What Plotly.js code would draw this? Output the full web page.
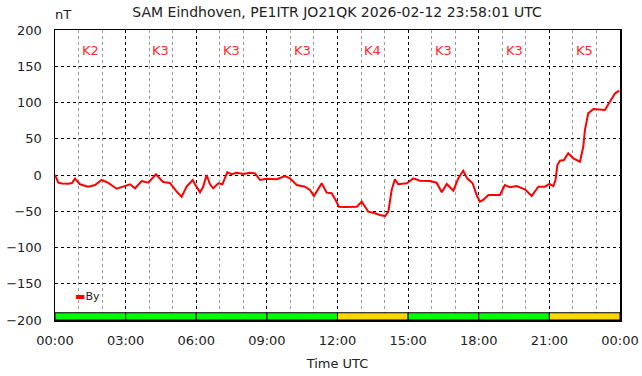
<!DOCTYPE html>
<html><head><meta charset="utf-8">
<script src="https://cdn.plot.ly/plotly-3.0.1.min.js"></script>
<style>html,body{margin:0;padding:0;background:#fff}#c{width:642px;height:376px}</style>
</head><body><div id="c"></div>
<script>
// Time in hours (UTC) and By in nT
const hours = [0,0.14,0.30,0.56,0.72,0.85,1.06,1.41,1.70,1.98,2.25,2.62,2.89,3.19,3.40,3.68,3.96,4.29,4.59,4.88,5.17,5.38,5.59,5.85,5.99,6.16,6.29,6.44,6.58,6.72,6.94,7.11,7.32,7.51,7.72,8.00,8.28,8.50,8.71,8.99,9.42,9.77,9.98,10.27,10.62,10.83,11.00,11.33,11.54,11.75,11.92,12.06,12.32,12.82,13.03,13.31,13.59,13.80,14.02,14.16,14.30,14.44,14.58,14.94,15.22,15.50,15.93,16.21,16.43,16.64,16.92,17.13,17.34,17.51,17.74,17.91,18.05,18.19,18.41,18.90,19.11,19.33,19.61,19.96,20.25,20.53,20.81,21.00,21.17,21.26,21.34,21.45,21.62,21.80,22.02,22.30,22.44,22.51,22.65,22.87,23.36,23.58,23.79,23.97];
const byValues = [0,-10.6,-11.7,-12,-11,-5.1,-12.8,-16.1,-13.8,-6.9,-10.6,-18.9,-16.1,-12.8,-18.3,-8.3,-10.6,1,-9.7,-11,-23,-30,-16.1,-6.9,-15,-23.9,-16.6,0,-12.4,-18.3,-11.4,-12.8,3.7,1,3.2,1.4,3.2,2.3,-6.9,-5.1,-5.9,-1.4,-4.6,-13.8,-16.1,-20.7,-29,-11.4,-24.4,-25.2,-34.5,-43.7,-44,-43.7,-36.8,-50.6,-52.8,-55.2,-56.6,-50.6,-20.7,-5.9,-12.8,-11.4,-4.6,-7.9,-8.3,-10.6,-23.9,-12.4,-21.7,-4.6,5.9,-4.6,-11.4,-27.6,-36.8,-34.5,-27.6,-27.6,-13.8,-17,-15.2,-19.7,-29,-16.1,-16.1,-12.4,-15.2,-6.9,13.8,19.7,20.7,29.9,23,18.3,39,62,85,91,89.7,101,112.7,116.3];

// K index per 3-hour block
const kBlockCenters = [1.5,4.5,7.5,10.5,13.5,16.5,19.5,22.5];
const kValues = [2,3,3,3,4,3,3,5];
const kLabels = kValues.map(k => 'K' + k);

const tickHours = [0,3,6,9,12,15,18,21,24];
const tickLabels = ['00:00','03:00','06:00','09:00','12:00','15:00','18:00','21:00','00:00'];

const kColors = kValues.map(k => k >= 4 ? '#ffd700' : '#00ff00');

const traces = [
  {
    type: 'bar', x: kBlockCenters, y: kValues.map(() => 10), base: -200, width: 3,
    marker: {color: kColors, line: {color: '#000', width: 1}},
    showlegend: false, hoverinfo: 'skip'
  },
  {
    type: 'scatter', mode: 'lines', name: 'By', x: hours, y: byValues,
    line: {color: '#ff0000', width: 2}, showlegend: false
  }
];

const annotations = kLabels.map((t, i) => ({
  x: kBlockCenters[i], y: 172, xref: 'x', yref: 'y', text: t, showarrow: false,
  font: {family: 'DejaVu Sans', size: 13, color: '#ff2a2a'}
}));
annotations.push({
  x: 0.014, y: 1.055, xref: 'paper', yref: 'paper', text: 'nT', showarrow: false,
  xanchor: 'center', yanchor: 'middle', font: {family: 'DejaVu Sans', size: 13, color: '#222'}
});
annotations.push({
  x: 0.031, y: 0.08, xref: 'paper', yref: 'paper', showarrow: false, xanchor: 'left', yanchor: 'middle',
  text: "<span style='color:#ff0000'>▬</span>By", font: {family: 'DejaVu Sans', size: 11, color: '#222'}
});

const layout = {
  width: 642, height: 376,
  margin: {l: 55, r: 22, t: 30, b: 56},
  paper_bgcolor: '#fff', plot_bgcolor: '#fff',
  font: {family: 'DejaVu Sans', color: '#222', size: 13},
  title: {text: 'SAM Eindhoven, PE1ITR JO21QK 2026-02-12 23:58:01 UTC', x: 0.525, xanchor: 'center',
          y: 0.968, yref: 'container', yanchor: 'middle', font: {family: 'DejaVu Sans', size: 14, color: '#222'}},
  bargap: 0,
  xaxis: {
    range: [0, 24], tickvals: tickHours, ticktext: tickLabels,
    showline: true, linecolor: '#000', linewidth: 1.5, mirror: true,
    showgrid: true, gridcolor: '#000', griddash: 'dot', gridwidth: 1,
    ticks: 'outside', ticklen: 8, tickcolor: 'rgba(0,0,0,0)',
    minor: {dtick: 1, tick0: 0, showgrid: true, gridcolor: '#999', griddash: 'dot', gridwidth: 1},
    zeroline: false, tickfont: {size: 13},
    title: {text: 'Time UTC', standoff: 12, font: {size: 13}}
  },
  yaxis: {
    range: [-200, 200], dtick: 50, tick0: 0,
    showline: true, linecolor: '#000', linewidth: 1.5, mirror: true,
    showgrid: true, gridcolor: '#000', griddash: 'dot', gridwidth: 1,
    ticks: 'outside', ticklen: 9, tickcolor: 'rgba(0,0,0,0)',
    zeroline: false, tickfont: {size: 13}
  },
  annotations: annotations
};

Plotly.newPlot('c', traces, layout, {displayModeBar: false, staticPlot: true});
</script></body></html>
